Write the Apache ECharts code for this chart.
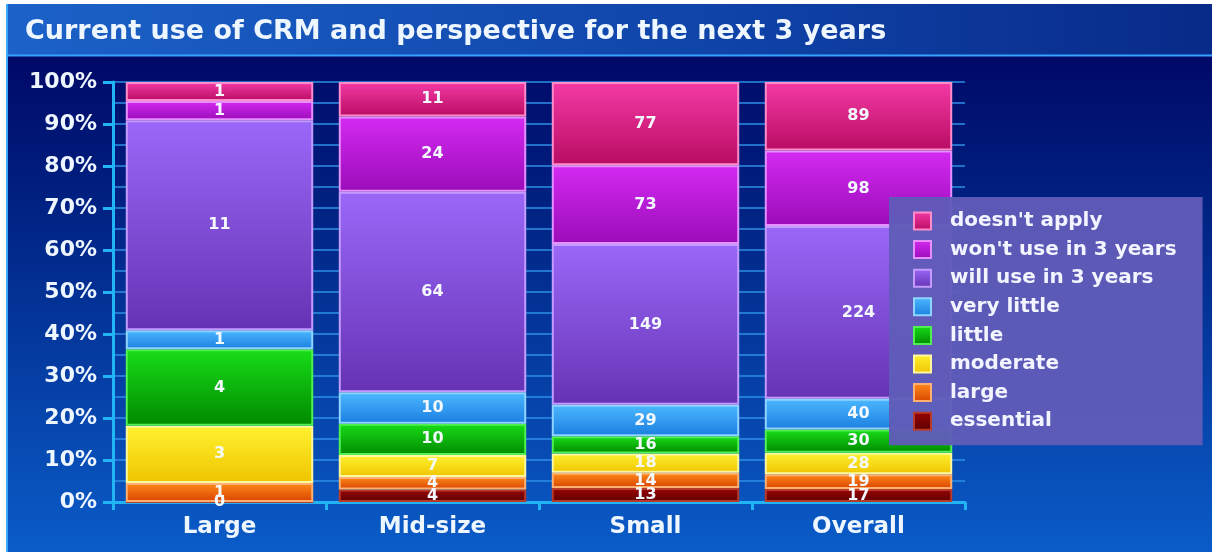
<!DOCTYPE html>
<html>
<head>
<meta charset="utf-8">
<script src="https://cdn.jsdelivr.net/npm/echarts@6/dist/echarts.min.js"></script>
<style>
html,body{margin:0;padding:0;background:#ffffff;}
#c{width:1212px;height:552px;}
</style>
</head>
<body>
<div id="c"></div>
<script>
// ---- data ----
var categories = ['Large', 'Mid-size', 'Small', 'Overall'];
var seriesNames = ['essential', 'large', 'moderate', 'little', 'very little', 'will use in 3 years', "won't use in 3 years", "doesn't apply"];
var essential = [0, 4, 13, 17];
var largeUse = [1, 4, 14, 19];
var moderate = [3, 7, 18, 28];
var little = [4, 10, 16, 30];
var veryLittle = [1, 10, 29, 40];
var willUse = [11, 64, 149, 224];
var wontUse = [1, 24, 73, 98];
var doesntApply = [1, 11, 77, 89];
var yTicks = ['0%', '10%', '20%', '30%', '40%', '50%', '60%', '70%', '80%', '90%', '100%'];

var counts = [essential, largeUse, moderate, little, veryLittle, willUse, wontUse, doesntApply];
// colours: [top, bottom, border]
var palette = [
  ['#9a0505', '#5e0000', '#b83a2a'],
  ['#ff8a1a', '#d84400', '#ffb070'],
  ['#fff230', '#efc400', '#fff8a0'],
  ['#18dd18', '#008a00', '#50f050'],
  ['#4cb8ff', '#1a7fe0', '#8fd4ff'],
  ['#9a68f8', '#6632b4', '#c49cff'],
  ['#d42af2', '#9a0cb8', '#e690ff'],
  ['#f43aa6', '#b80c62', '#ff8cca']
];

var totals = categories.map(function (c, i) {
  var s = 0; counts.forEach(function (arr) { s += arr[i]; }); return s;
});

var chart = echarts.init(document.getElementById('c'), null, {renderer: 'canvas'});
var FONT = 'DejaVu Sans';

var series = counts.map(function (arr, k) {
  return {
    name: seriesNames[k],
    type: 'bar',
    stack: 'total',
    barWidth: '88%',
    data: arr.map(function (v, i) { return {value: v / totals[i] * 100, raw: v}; }),
    itemStyle: {
      color: new echarts.graphic.LinearGradient(0, 0, 0, 1, [
        {offset: 0, color: palette[k][0]},
        {offset: 1, color: palette[k][1]}
      ]),
      borderColor: palette[k][2],
      borderWidth: 2
    },
    label: {
      show: true,
      position: 'inside',
      color: '#f4f8ff',
      fontFamily: FONT,
      fontWeight: 'bold',
      fontSize: 16,
      formatter: function (p) { return String(p.data.raw); }
    },
    emphasis: {disabled: true}
  };
});

var option = {
  animation: false,
  backgroundColor: 'transparent',
  graphic: [
    {type: 'rect', shape: {x: 6, y: 4, width: 1206, height: 548}, z: -10,
      style: {fill: new echarts.graphic.LinearGradient(0, 0, 0, 1, [
        {offset: 0, color: '#00005e'},
        {offset: 0.35, color: '#002080'},
        {offset: 1, color: '#0a5cc8'}
      ])}},
    {type: 'rect', shape: {x: 6, y: 4, width: 1206, height: 51}, z: -9,
      style: {fill: new echarts.graphic.LinearGradient(0, 0, 1, 0, [
        {offset: 0, color: '#1c62c8'},
        {offset: 0.6, color: '#0f43a8'},
        {offset: 1, color: '#082a88'}
      ])}},
    {type: 'line', shape: {x1: 6, y1: 55.5, x2: 1212, y2: 55.5}, z: -8,
      style: {stroke: '#36a4ff', lineWidth: 2}},
    {type: 'line', shape: {x1: 7, y1: 4, x2: 7, y2: 552}, z: -8,
      style: {stroke: '#3aa8ff', lineWidth: 2}}
  ],
  title: {
    text: 'Current use of CRM and perspective for the next 3 years',
    left: 20, top: 13,
    textStyle: {color: '#eef6ff', fontFamily: FONT, fontWeight: 'bold', fontSize: 27}
  },
  legend: {
    orient: 'vertical',
    left: 889, top: 197,
    data: seriesNames.slice().reverse(),
    icon: 'rect',
    itemWidth: 17, itemHeight: 17, itemGap: 8.6,
    padding: [14, 26, 14, 24],
    backgroundColor: 'rgba(96,92,184,0.96)',
    textStyle: {color: '#f2f4ff', fontFamily: FONT, fontWeight: 'bold', fontSize: 20, padding: [0, 0, 0, 14]},
    selectedMode: false
  },
  grid: {left: 113, right: 247, top: 82, bottom: 50, containLabel: false},
  xAxis: {
    type: 'category',
    data: categories,
    axisLine: {lineStyle: {color: '#22b4f4', width: 3}},
    axisTick: {show: true, length: 8, lineStyle: {color: '#22b4f4', width: 3}},
    axisLabel: {color: '#eef6ff', fontFamily: FONT, fontWeight: 'bold', fontSize: 23, margin: 14},
    splitLine: {show: false}
  },
  yAxis: {
    type: 'value',
    min: 0, max: 100, interval: 10,
    axisLine: {show: true, lineStyle: {color: '#22b4f4', width: 3}},
    axisTick: {show: true, length: 10, lineStyle: {color: '#22b4f4', width: 3}},
    axisLabel: {
      color: '#eef6ff', fontFamily: FONT, fontWeight: 'bold', fontSize: 22, margin: 16,
      formatter: function (v) { return yTicks[Math.round(v / 10)]; }
    },
    splitLine: {show: true, lineStyle: {color: '#2e8fe6', width: 1.5}},
    minorTick: {show: false, splitNumber: 2},
    minorSplitLine: {show: true, lineStyle: {color: '#2e8fe6', width: 1.5}}
  },
  series: series
};
chart.setOption(option);
</script>
</body>
</html>
